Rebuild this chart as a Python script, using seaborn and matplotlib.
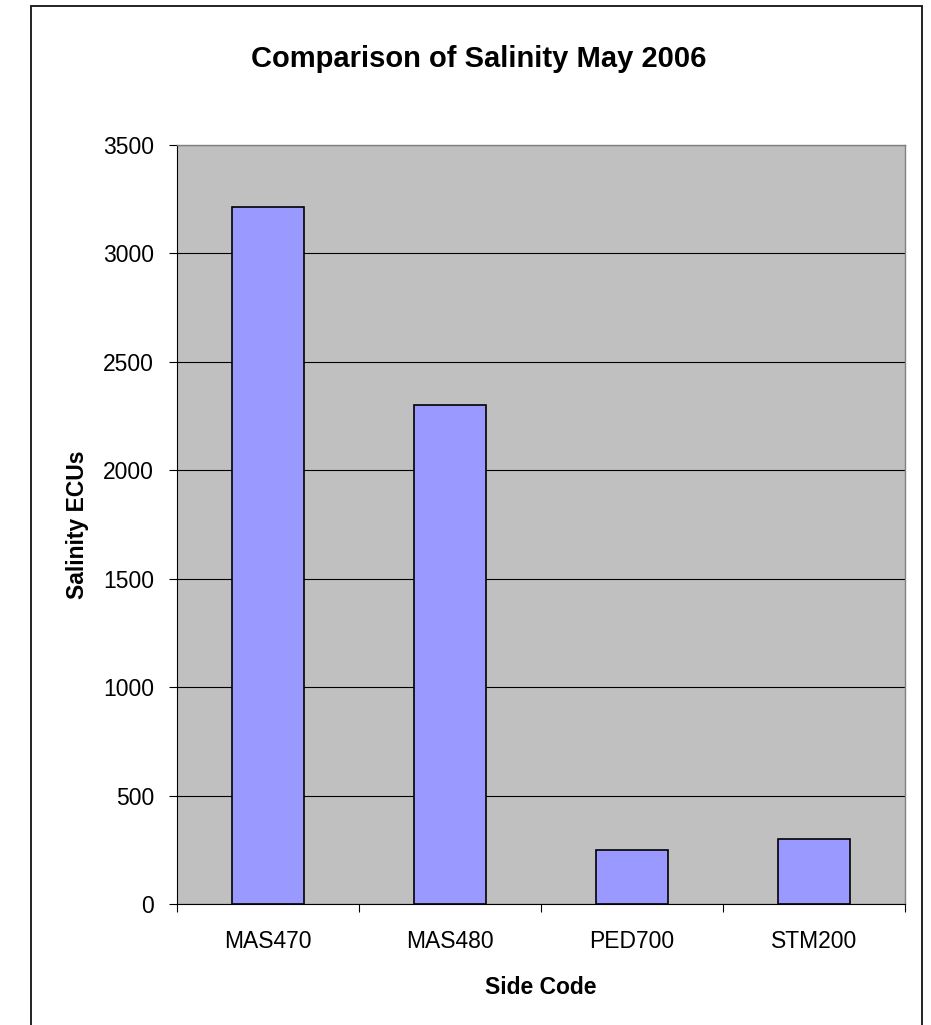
import matplotlib
matplotlib.use("Agg")
import matplotlib.pyplot as plt
from matplotlib.lines import Line2D
from matplotlib.ticker import FixedLocator, MultipleLocator
import seaborn as sns
import pandas as pd

# Salinity readings per site, May 2006
sites = ["MAS470", "MAS480", "PED700", "STM200"]
salinity = [3215, 2300, 250, 300]

sns.set_theme(style="white")
plt.rcParams["font.family"] = ["Liberation Sans", "DejaVu Sans"]

W, H = 931, 1025
fig = plt.figure(figsize=(W / 100, H / 100), dpi=100)
ax = fig.add_axes([177 / W, 1 - 904 / H, (905 - 177) / W, (904 - 145) / H])
ax.set_facecolor("#C0C0C0")

df = pd.DataFrame({"site": sites, "salinity": salinity})
sns.barplot(data=df, x="site", y="salinity", color="#9999FF", width=0.4,
            saturation=1, edgecolor="black", linewidth=1.2, ax=ax, zorder=3)

ax.set_ylim(0, 3500)
ax.set_xlim(-0.5, len(sites) - 0.5)
ax.yaxis.set_major_locator(MultipleLocator(500))
ax.yaxis.grid(True, color="black", linewidth=0.8, zorder=1)
ax.set_axisbelow(True)

# category labels centred, tick marks on the category boundaries
ax.set_xticks(range(len(sites)))
ax.set_xticklabels(sites)
ax.xaxis.set_minor_locator(FixedLocator([i - 0.5 for i in range(len(sites) + 1)]))
ax.tick_params(axis="x", which="major", length=0, pad=19, labelsize=16.5, colors="black")
ax.tick_params(axis="x", which="minor", length=6, width=0.8, color="black", direction="out", bottom=True)
ax.tick_params(axis="y", which="major", length=5.5, width=0.8, color="black", direction="out",
               left=True, pad=11, labelsize=16.5, labelcolor="black")

for side in ("top", "right"):
    ax.spines[side].set_color("#808080")
    ax.spines[side].set_linewidth(1.0)
for side in ("left", "bottom"):
    ax.spines[side].set_color("black")
    ax.spines[side].set_linewidth(0.8)

ax.set_xlabel("Side Code", fontsize=16.5, fontweight="bold", labelpad=16, color="black")
ax.set_ylabel("Salinity ECUs", fontsize=16.5, fontweight="bold", labelpad=10, color="black")

fig.text(479 / W, 1 - 59 / H, "Comparison of Salinity May 2006", ha="center", va="center",
         fontsize=21, fontweight="bold", color="black")

# chart frame (open at the bottom edge)
x0, x1, y0 = 31 / W, 922 / W, 1 - 6 / H
frame = dict(color="#222222", linewidth=1.4, transform=fig.transFigure)
fig.add_artist(Line2D([x0, x1], [y0, y0], **frame))
fig.add_artist(Line2D([x0, x0], [y0, 0], **frame))
fig.add_artist(Line2D([x1, x1], [y0, 0], **frame))

fig.savefig("out.png", dpi=100)
